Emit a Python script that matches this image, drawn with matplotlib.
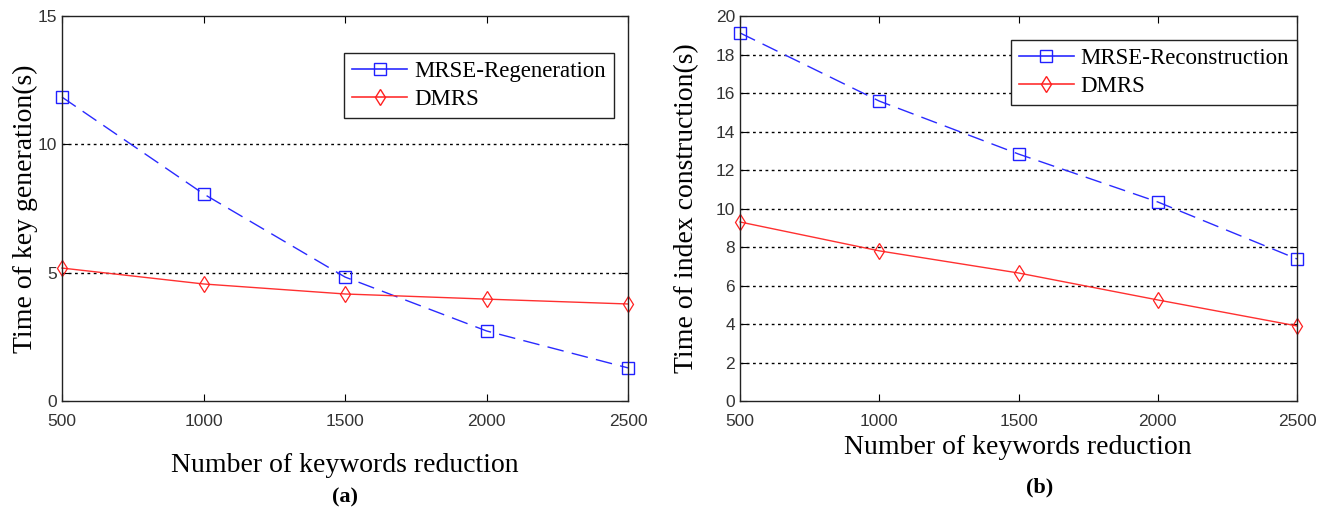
import matplotlib
matplotlib.use("Agg")
import matplotlib.pyplot as plt
from matplotlib.lines import Line2D

# data
keywords = [500, 1000, 1500, 2000, 2500]

mrse_regen = [11.84, 8.07, 4.83, 2.73, 1.29]
dmrs_key = [5.18, 4.56, 4.17, 3.97, 3.78]

mrse_recon = [19.12, 15.58, 12.83, 10.34, 7.38]
dmrs_index = [9.30, 7.80, 6.65, 5.25, 3.90]

serif = "Liberation Serif"
sans = ["Liberation Sans Narrow", "Liberation Sans"]

fig = plt.figure(figsize=(13.22, 5.13), dpi=100)
ax1 = fig.add_axes([0.0469, 0.2183, 0.4282, 0.7505])
ax2 = fig.add_axes([0.5598, 0.2183, 0.4213, 0.7505])


def style_axes(ax, yticks, ylim):
    ax.set_xlim(500, 2500)
    ax.set_ylim(*ylim)
    ax.set_xticks(keywords)
    ax.set_yticks(yticks)
    ax.tick_params(direction="in", top=True, right=True, length=5,
                   labelsize=12.5, width=0.8)
    for lab in ax.get_xticklabels() + ax.get_yticklabels():
        lab.set_family(sans)
        lab.set_color("#333333")
    ax.tick_params(axis="x", pad=9)
    for s in ax.spines.values():
        s.set_linewidth(1.0)
        s.set_color("#222222")
    for y in yticks[1:-1]:
        ax.axhline(y, color="black", ls=(0, (2, 2.5)), lw=1.0, zorder=0)


def plot_pair(ax, blue, red, blue_label, legend_anchor):
    ax.plot(keywords, blue, color="#2a2aff", lw=1.0, dashes=(12, 6),
            marker="s", markersize=9, markerfacecolor="none",
            markeredgecolor="#2020ff", markeredgewidth=1.0, clip_on=False)
    ax.plot(keywords, red, color="#ff3030", lw=1.0,
            marker="d", markersize=8, markerfacecolor="none",
            markeredgecolor="#ff2020", markeredgewidth=0.9, clip_on=False)
    handles = [
        Line2D([], [], color="#2a2aff", lw=1.2, marker="s", markersize=9,
               markerfacecolor="none", markeredgecolor="#2020ff"),
        Line2D([], [], color="#ff3030", lw=1.2, marker="d", markersize=8,
               markerfacecolor="none", markeredgecolor="#ff2020"),
    ]
    leg = ax.legend(handles, [blue_label, "DMRS"], loc="upper right",
                    bbox_to_anchor=legend_anchor, fancybox=False,
                    framealpha=1, edgecolor="#222222", handlelength=2.4,
                    prop={"family": serif, "size": 16.5}, borderpad=0.35,
                    labelspacing=0.3, handletextpad=0.3, borderaxespad=0)
    leg.get_frame().set_linewidth(1.0)


style_axes(ax1, [0, 5, 10, 15], (0, 15))
plot_pair(ax1, mrse_regen, dmrs_key, "MRSE-Regeneration", (0.975, 0.904))
ax1.set_ylabel("Time of key generation(s)", family=serif, fontsize=20,
               labelpad=0)

style_axes(ax2, list(range(0, 21, 2)), (0, 20))
plot_pair(ax2, mrse_recon, dmrs_index, "MRSE-Reconstruction", (1.0, 0.938))
ax2.set_ylabel("Time of index construction(s)", family=serif, fontsize=20,
               labelpad=12)

fig.text(0.2606, 1 - 465 / 513, "Number of keywords reduction", family=serif,
         fontsize=20, ha="center", va="center")
fig.text(0.2606, 1 - 497 / 513, "(a)", family=serif, fontsize=16,
         fontweight="bold", ha="center", va="center")
fig.text(0.7698, 1 - 447 / 513, "Number of keywords reduction", family=serif,
         fontsize=20, ha="center", va="center")
fig.text(0.7865, 1 - 487 / 513, "(b)", family=serif, fontsize=16,
         fontweight="bold", ha="center", va="center")

fig.savefig("out.png", dpi=100)
